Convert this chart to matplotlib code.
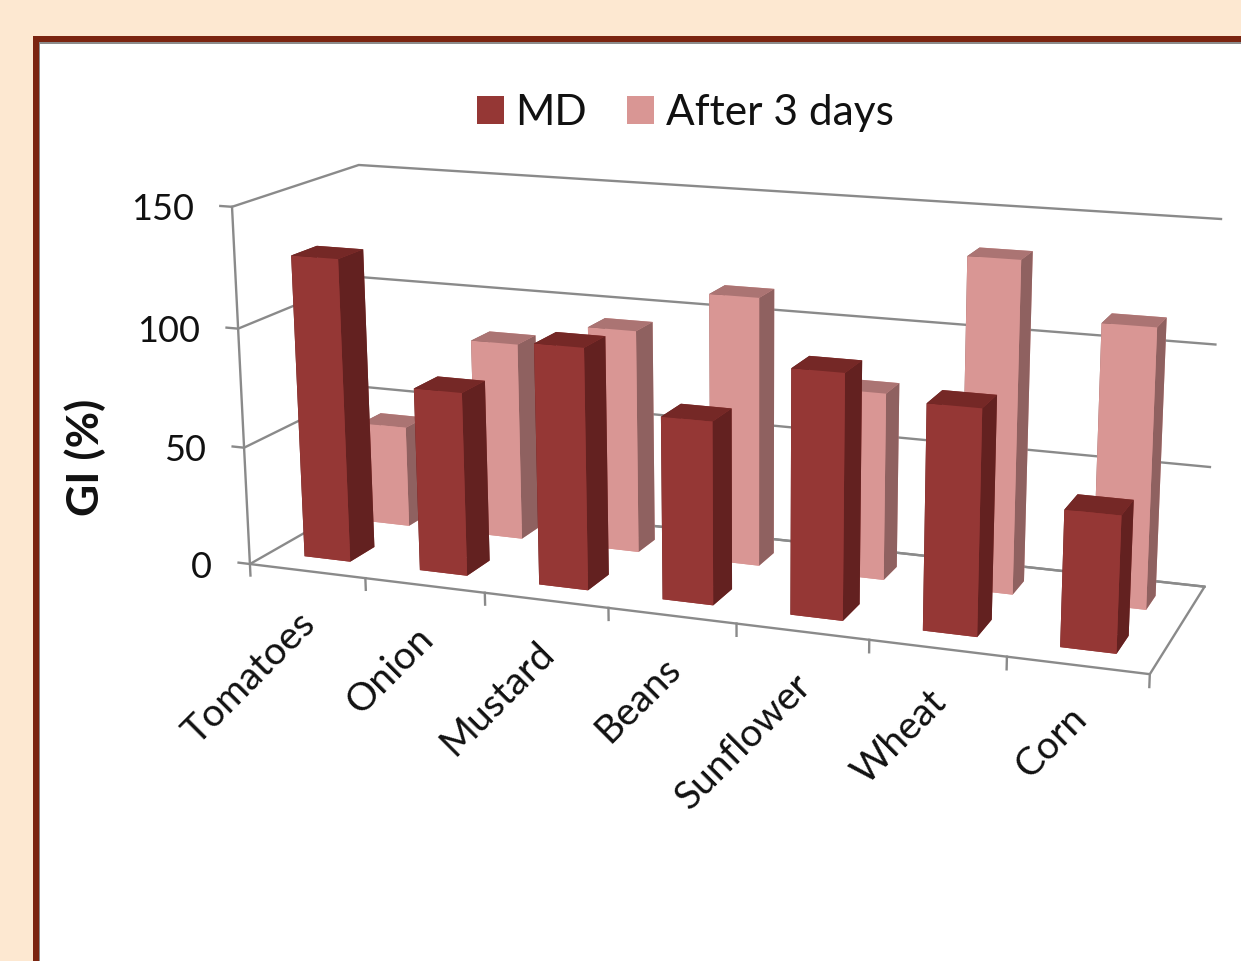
import numpy as np
import matplotlib
matplotlib.use('Agg')
import matplotlib.pyplot as plt
from matplotlib.patches import Rectangle, Patch

categories = ['Tomatoes', 'Onion', 'Mustard', 'Beans', 'Sunflower', 'Wheat', 'Corn']
md = [128, 77, 100, 75, 99, 90, 54]
after_3_days = [44, 85, 95, 113, 78, 136, 113.5]
z_ticks = [0, 50, 100, 150]

W, H = 1241, 961
TEXT = '#111111'
plt.rcParams['font.family'] = ['Lato', 'DejaVu Sans']

fig = plt.figure(figsize=(W / 100, H / 100), dpi=100, facecolor='#fde8d1')

# frame round the chart, runs off the right and bottom edge
fig.patches.append(Rectangle((33, -10), W, H - 36 + 10, transform=None, fc='#7b2410', ec='none', zorder=-3))
fig.patches.append(Rectangle((38.5, -10), W, H - 41.5 + 10, transform=None, fc='#8c8c8c', ec='none', zorder=-2))
fig.patches.append(Rectangle((40, -10), W, H - 43.5 + 10, transform=None, fc='white', ec='none', zorder=-1))

side = 1013.69
ax = fig.add_axes([198.95 / W, 43.27 / H, side / W, side / H], projection='3d')
ax.set_xlim(0, 7, view_margin=0)
ax.set_ylim(0, 1, view_margin=0)
ax.set_zlim(0, 150, view_margin=0)
ax.view_init(elev=14.5405, azim=-69.2688, roll=0.1998)
ax.set_proj_type('persp', focal_length=0.4855)
ax.set_box_aspect((1, 0.2832, 0.3990))
ax.set_axis_off()
ax.computed_zorder = False
ax.patch.set_visible(False)

line = dict(color='#8a8a8a', lw=1.7, zorder=1, clip_on=False)
ax.plot([0, 0, 7, 7, 0], [0, 0, 0, 1, 1], [150, 0, 0, 0, 0], **line)
for z in z_ticks:
    ax.plot([-0.1, 0, 0, 7], [0, 0, 1, 1], [z, z, z, z], **line)
for i in range(8):
    ax.plot([i, i], [0, 0], [0, -5], **line)


def bar(i, value, y0, y1, front, top, side_c, zorder):
    colors = [front, top, front, front, side_c, side_c]
    ax.bar3d(i + 0.3, y0, 0, 0.4, y1 - y0, value, color=colors, shade=False, zorder=zorder, edgecolor='none')


for i, v in enumerate(after_3_days):
    bar(i, v, 0.66, 0.83, '#d99694', '#ab7473', '#8f6160', 2)
for i, v in enumerate(md):
    bar(i, v, 0.16, 0.36, '#953735', '#752826', '#632120', 3)


def to_2d(x, y, z):
    h = ax.get_proj() @ np.array([x, y, z, 1.0])
    return h[0] / h[3], h[1] / h[3]


# Text3D drops the rotation, so labels are placed in 2D from the projected point
for i, name in enumerate(categories):
    ax.annotate(name, xy=to_2d(i + 0.5, 0, 0), xytext=(-10, -35), textcoords='offset pixels', annotation_clip=False,
                rotation=45, ha='right', va='top', rotation_mode='anchor', fontsize=28, color=TEXT)
for z in z_ticks:
    ax.annotate(str(z), xy=to_2d(0, 0, z), xytext=(-38, -3), textcoords='offset pixels', annotation_clip=False,
                ha='right', va='center', fontsize=26, color=TEXT)

fig.text(85 / W, 1 - 457 / H, 'GI (%)', rotation=90, ha='center', va='center', fontsize=32, fontweight='bold', color=TEXT)
fig.legend(handles=[Patch(fc='#953735', label='MD'), Patch(fc='#d99694', label='After 3 days')], ncol=2, frameon=False,
           loc='center', bbox_to_anchor=(685 / W, 1 - 113 / H), fontsize=30.5, handlelength=0.64, handleheight=0.64,
           handletextpad=0.27, columnspacing=0.95, labelcolor=TEXT)

fig.savefig('out.png', dpi=100)
